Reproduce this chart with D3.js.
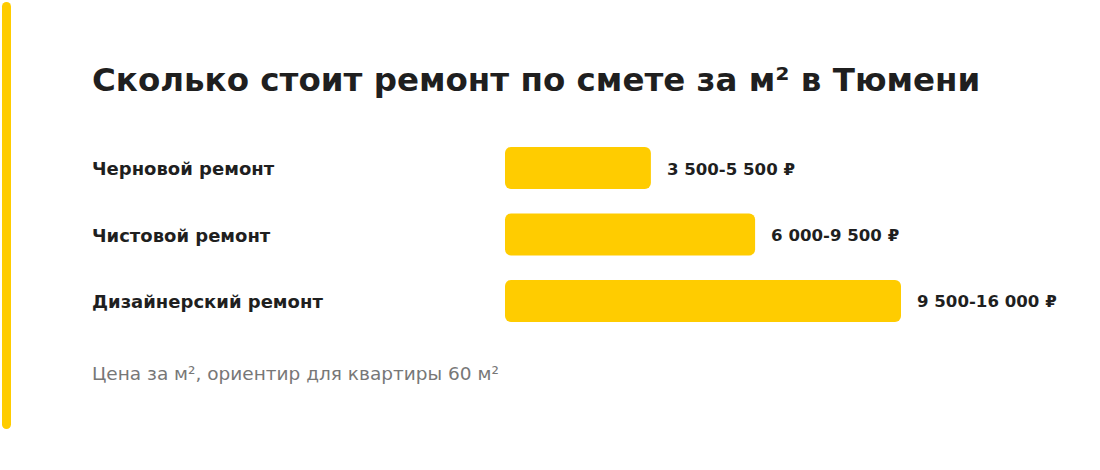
<!DOCTYPE html>
<html><head><meta charset="utf-8">
<script src="https://cdn.jsdelivr.net/npm/d3@7"></script>
<style>
html,body{margin:0;padding:0;background:#fff;}
svg{display:block;font-family:"DejaVu Sans","Liberation Sans",Arial,sans-serif;}
</style></head>
<body>
<svg id="chart" width="1100" height="470"></svg>
<script>
const title = "Сколько стоит ремонт по смете за м² в Тюмени";
const categories = ["Черновой ремонт", "Чистовой ремонт", "Дизайнерский ремонт"];
const lowValues = [3500, 6000, 9500];
const highValues = [5500, 9500, 16000];
const valueLabels = ["3 500-5 500 ₽", "6 000-9 500 ₽", "9 500-16 000 ₽"];
const footnote = "Цена за м², ориентир для квартиры 60 м²";

const svg = d3.select("#chart");
const yellow = "#FFCC00";
const ink = "#1f1f1f";

// left accent bar
svg.append("rect").attr("x", 2).attr("y", 2).attr("width", 9).attr("height", 427)
  .attr("rx", 4.5).attr("fill", yellow);

svg.append("text").attr("x", 92).attr("y", 91)
  .attr("font-size", 32.5).attr("font-weight", 700).attr("fill", ink)
  .text(title);

const x = d3.scaleLinear().domain([0, 9500]).range([505, 901]);
const y = d3.scaleBand().domain(categories).range([147, 322]).paddingInner(0.368).paddingOuter(0);

const data = categories.map((c, i) => ({c, low: lowValues[i], high: highValues[i], label: valueLabels[i]}));

const g = svg.append("g");
g.selectAll("rect.bar").data(data).join("rect").attr("class", "bar")
  .attr("x", x(0)).attr("y", d => y(d.c))
  .attr("width", d => x(d.low) - x(0)).attr("height", y.bandwidth())
  .attr("rx", 6).attr("fill", yellow);

g.selectAll("text.cat").data(data).join("text").attr("class", "cat")
  .attr("x", 92).attr("y", d => y(d.c) + y.bandwidth() / 2 + 7)
  .attr("font-size", 18).attr("font-weight", 700).attr("fill", ink)
  .text(d => d.c);

g.selectAll("text.val").data(data).join("text").attr("class", "val")
  .attr("x", d => x(d.low) + 16).attr("y", d => y(d.c) + y.bandwidth() / 2 + 6.5)
  .attr("font-size", 16.6).attr("font-weight", 700).attr("fill", ink)
  .text(d => d.label);

svg.append("text").attr("x", 92).attr("y", 380)
  .attr("font-size", 18.5).attr("fill", "#777")
  .text(footnote);
</script>
</body></html>
